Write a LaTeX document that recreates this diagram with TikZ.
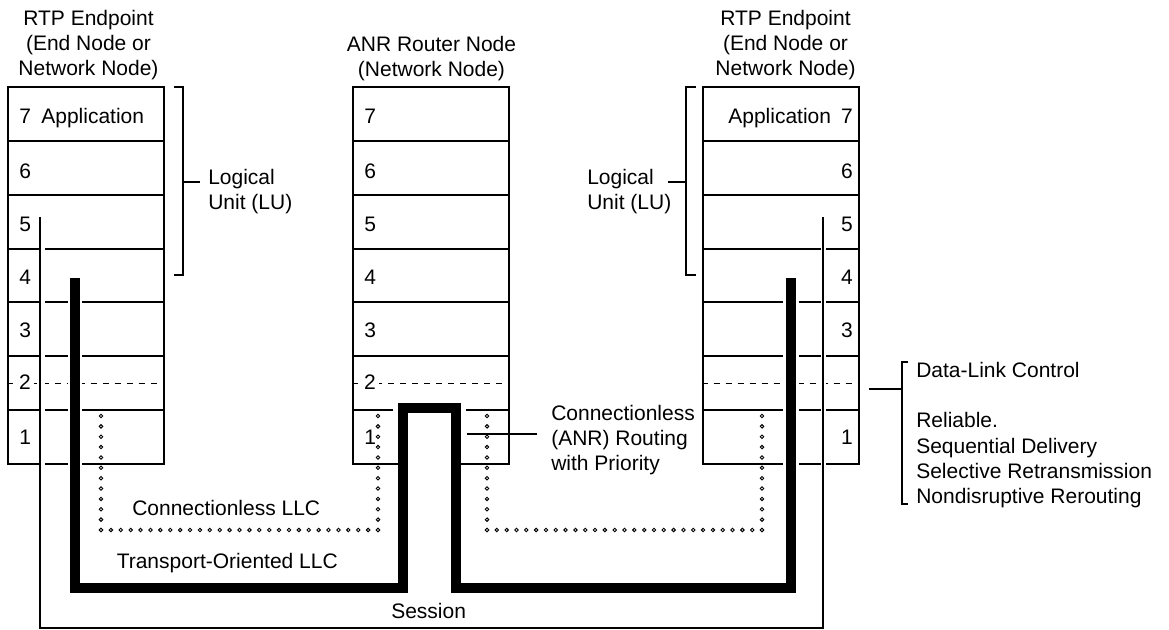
\documentclass[tikz,border=0pt]{standalone}
\usepackage{fontspec}
\setmainfont{Liberation Sans}
\usetikzlibrary{calc}
\newcommand{\dotrun}[3]{\foreach \ii in {0,...,#3}{\draw[ring] ($(#1)!\ii/#3!(#2)$) circle[radius=1.3pt];}}
\begin{document}
\begin{tikzpicture}[x=0.75pt,y=-0.75pt,
  stacklayer/.style={draw, line width=1.5pt, rectangle, minimum width=117pt, minimum height=40.39pt, inner sep=0pt},
  txt/.style={font=\fontsize{15.75}{18.75}\selectfont, inner sep=0pt},
  lab/.style={txt, anchor=base west},
  labr/.style={txt, anchor=base east},
  dashln/.style={line width=0.75pt, dash pattern=on 4.5pt off 4.5pt},
  whitegap/.style={fill=white, draw=none},
  sessionln/.style={line width=1.3pt},
  llcln/.style={line width=7.9pt, line join=miter},
  ring/.style={draw, fill=white, line width=0.7pt},
  brk/.style={line width=1pt},
  lead/.style={line width=0.8pt},
  twolab/.style={lab, fill=white, inner xsep=2pt, inner ysep=1pt}
]
\useasboundingbox (0,0) rectangle (1169,630);

% protocol stacks
\foreach \ly in {1,...,7}{
  \node[stacklayer] (A\ly) at (85.5,{87+(7.5-\ly)*53.857}) {};
  \node[stacklayer] (B\ly) at (431,{87+(7.5-\ly)*53.857}) {};
  \node[stacklayer] (C\ly) at (780.5,{87+(7.5-\ly)*53.857}) {};
}
\draw[dashln] (A2.west) -- (A2.east);
\draw[dashln] (B2.west) -- (B2.east);
\draw[dashln] (C2.west) -- (C2.east);

% path points
\coordinate (s1) at (40,217);
\coordinate (s2) at (40,628);
\coordinate (s3) at (823,628);
\coordinate (s4) at (823,217);
\coordinate (t1) at (75,278);
\coordinate (t2) at (75,588);
\coordinate (t3) at (403,588);
\coordinate (t4) at (403,408);
\coordinate (t5) at (456,408);
\coordinate (t6) at (456,588);
\coordinate (t7) at (791,588);
\coordinate (t8) at (791,278);
\coordinate (d1) at (101,416);
\coordinate (d2) at (101,530);
\coordinate (d3) at (378,530);
\coordinate (d4) at (378,416);
\coordinate (e1) at (487,416);
\coordinate (e2) at (487,530);
\coordinate (e3) at (762,530);
\coordinate (e4) at (762,416);

% gaps in the layer lines where the connections pass
\fill[whitegap] (40.6,217) rectangle (44.5,467);
\fill[whitegap] (820.5,217) rectangle (825.8,467);
\fill[whitegap] (68,278) rectangle (81.5,467);
\fill[whitegap] (783,278) rectangle (798.5,467);
\fill[whitegap] (393,400) rectangle (466,416);
\fill[whitegap] (407,400) rectangle (452,467);

% session and transport-oriented LLC
\draw[sessionln] (s1) -- (s2) -- (s3) -- (s4);
\draw[llcln] (t1) -- (t2) -- (t3) -- (t4) -- (t5) -- (t6) -- (t7) -- (t8);

% connectionless LLC (dotted)
\dotrun{d1}{d2}{11}
\dotrun{d2}{d3}{28}
\dotrun{d3}{d4}{11}
\dotrun{e1}{e2}{11}
\dotrun{e2}{e3}{28}
\dotrun{e3}{e4}{11}

% layer labels, left
\node[lab] (a7) at (19,124) {7\hspace{7.8pt}Application};
\node[lab] (a6) at (19,179) {6};
\node[lab] (a5) at (19,232) {5};
\node[lab] (a4) at (19,285) {4};
\node[lab] (a3) at (19,338) {3};
\node[twolab] (a2) at (16.3,389) {2};
\node[lab] (a1) at (19,444) {1};
% layer labels, middle
\node[lab] (b7) at (364,124) {7};
\node[lab] (b6) at (364,179) {6};
\node[lab] (b5) at (364,232) {5};
\node[lab] (b4) at (364,285) {4};
\node[lab] (b3) at (364,338) {3};
\node[twolab] (b2) at (361.3,389) {2};
\node[lab] (b1) at (364,444) {1};
% layer labels, right
\node[labr] (c7) at (853,124) {Application\hspace{7.5pt}7};
\node[labr] (c6) at (853,179) {6};
\node[labr] (c5) at (853,232) {5};
\node[labr] (c4) at (853,285) {4};
\node[labr] (c3) at (853,338) {3};
\node[labr] (c1) at (853,444) {1};

% titles
\node[txt, anchor=base] (tA) at (88.5,26) {\parbox[t]{160pt}{\centering RTP Endpoint\\(End Node or\\Network Node)}};
\node[txt, anchor=base] (tB) at (431.5,51.5) {\parbox[t]{160pt}{\centering ANR Router Node\\(Network Node)}};
\node[txt, anchor=base] (tC) at (785.5,26) {\parbox[t]{160pt}{\centering RTP Endpoint\\(End Node or\\Network Node)}};

% logical unit brackets
\coordinate (luAt) at (174,87);
\coordinate (luAb) at (174,275);
\coordinate (luAm) at (183,182);
\coordinate (luAe) at (200,182);
\draw[brk] (luAt) -- (183,87) -- (183,275) -- (luAb);
\draw[brk] (luAm) -- (luAe);
\node[lab] (luA) at (208,185) {\parbox[t]{100pt}{\raggedright Logical\\Unit (LU)}};

\coordinate (luCt) at (696,87);
\coordinate (luCb) at (696,275);
\coordinate (luCm) at (686,182);
\coordinate (luCe) at (668,182);
\draw[brk] (luCt) -- (686,87) -- (686,275) -- (luCb);
\draw[brk] (luCm) -- (luCe);
\node[lab] (luC) at (587,185) {\parbox[t]{100pt}{\raggedright Logical\\Unit (LU)}};

% data-link control bracket
\coordinate (dlt) at (908,362);
\coordinate (dlb) at (908,504);
\coordinate (dlm) at (902,389);
\coordinate (dle) at (869,389);
\draw[brk] (dlt) -- (902,362) -- (902,504) -- (dlb);
\draw[brk] (dle) -- (dlm);
\node[lab] (dlc) at (916,378) {\parbox[t]{220pt}{\raggedright Data-Link Control\\[18.75pt]Reliable.\\Sequential Delivery\\Selective Retransmission\\Nondisruptive Rerouting}};

% ANR routing label
\coordinate (an1) at (467,434);
\coordinate (an2) at (537,434);
\draw[lead] (an1) -- (an2);
\node[lab] (anr) at (551,420) {\parbox[t]{150pt}{\raggedright Connectionless\\(ANR) Routing\\with Priority}};

% connection labels
\node[lab] (cl) at (132,515) {Connectionless LLC};
\node[lab] (to) at (116.5,568) {Transport-Oriented LLC};
\node[lab] (se) at (391,618) {Session};
\end{tikzpicture}
\end{document}
